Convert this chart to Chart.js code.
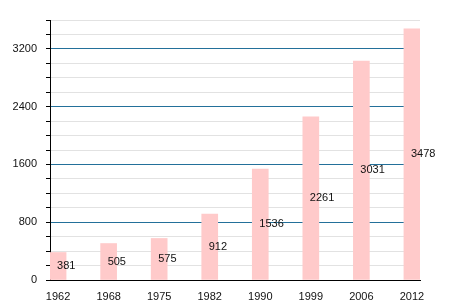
<!DOCTYPE html>
<html>
<head>
<meta charset="utf-8">
<script src="https://cdn.jsdelivr.net/npm/chart.js@4"></script>
<style>
  html, body { margin: 0; padding: 0; background: #fff; }
  #wrap { width: 450px; height: 300px; }
</style>
</head>
<body>
<div id="wrap"><canvas id="myChart"></canvas></div>
<script>
// data
const years = ['1962', '1968', '1975', '1982', '1990', '1999', '2006', '2012'];
const population = [381, 505, 575, 912, 1536, 2261, 3031, 3478];
const yMax = 3600;
const yStep = 200;
const yLabelStep = 800;

const ctx = document.getElementById('myChart').getContext('2d');

// write each value at the middle height of its bar
const valueLabels = {
    id: 'valueLabels',
    afterDatasetsDraw(chart) {
        const c = chart.ctx;
        const meta = chart.getDatasetMeta(0);
        c.save();
        c.font = '11px "Liberation Sans", Arial, sans-serif';
        c.fillStyle = '#111';
        c.textAlign = 'left';
        c.textBaseline = 'middle';
        meta.data.forEach((bar, i) => {
            const midY = (bar.y + bar.base) / 2;
            c.fillText(String(population[i]), bar.x - 1, midY);
        });
        c.restore();
    }
};

new Chart(ctx, {
    type: 'bar',
    data: {
        datasets: [{
            data: population.map((v, i) => ({ x: i, y: v })),
            backgroundColor: '#ffcaca',
            borderWidth: 0,
            barThickness: 16
        }]
    },
    options: {
        responsive: true,
        maintainAspectRatio: false,
        animation: false,
        layout: { padding: { top: 20, right: 30, left: 0, bottom: 0 } },
        plugins: {
            legend: { display: false },
            tooltip: { enabled: false }
        },
        scales: {
            x: {
                type: 'linear',
                offset: false,
                min: -0.16,
                max: 7.16,
                afterBuildTicks: scale => {
                    scale.ticks = years.map((_, i) => ({ value: i }));
                },
                afterFit: scale => { scale.height = 20; },
                grid: { display: false, offset: false },
                border: { display: true, color: '#000', width: 1 },
                ticks: {
                    autoSkip: false,
                    maxRotation: 0,
                    padding: 2,
                    color: '#111',
                    font: { family: '"Liberation Sans", Arial, sans-serif', size: 11 },
                    callback: v => years[v]
                }
            },
            y: {
                min: 0,
                max: yMax,
                afterFit: scale => { scale.width = 50; },
                border: { display: true, color: '#000', width: 1 },
                grid: {
                    color: c => (c.tick.value % yLabelStep === 0 && c.tick.value > 0 && c.tick.value < yMax) ? '#23709a' : '#e2e2e2',
                    lineWidth: 1,
                    drawTicks: true,
                    tickLength: 4,
                    tickColor: '#000'
                },
                ticks: {
                    stepSize: yStep,
                    autoSkip: false,
                    padding: 9,
                    color: '#111',
                    font: { family: '"Liberation Sans", Arial, sans-serif', size: 11 },
                    callback: v => (v % yLabelStep === 0 && v < yMax) ? String(v) : ''
                }
            }
        }
    },
    plugins: [valueLabels]
});
</script>
</body>
</html>
